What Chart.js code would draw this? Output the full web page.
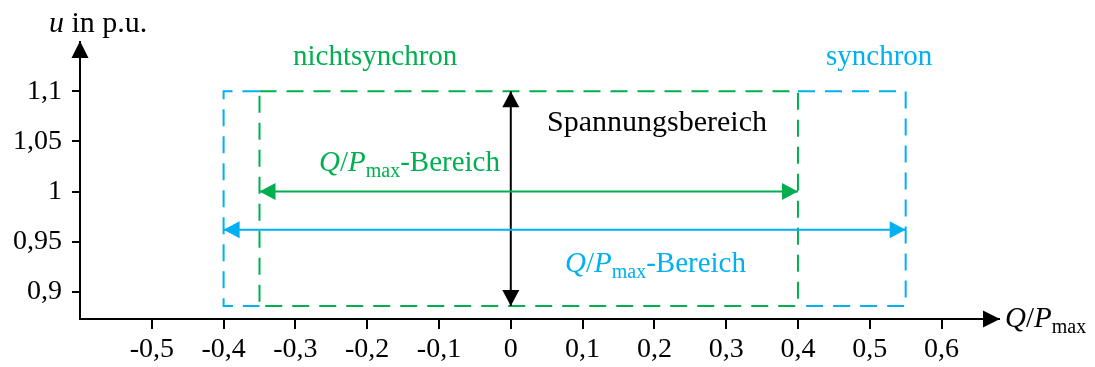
<!DOCTYPE html>
<html>
<head>
<meta charset="utf-8">
<script src="https://cdn.jsdelivr.net/npm/chart.js@4"></script>
<style>
  html, body { margin: 0; padding: 0; background: #fff; }
  #wrap { width: 1095px; height: 367px; }
</style>
</head>
<body>
<div id="wrap"><canvas id="qpChart" width="1095" height="367"></canvas></div>
<script>
// axis ticks
const xTicks = [-0.5, -0.4, -0.3, -0.2, -0.1, 0, 0.1, 0.2, 0.3, 0.4, 0.5, 0.6];
const yTicks = [0.9, 0.95, 1, 1.05, 1.1];
const xRange = [-0.6, 0.68];
const yRange = [0.873, 1.149];

// operating ranges
const syncQ = [-0.4, 0.55];      // synchron Q/Pmax range
const asyncQ = [-0.35, 0.4];     // nichtsynchron Q/Pmax range
const uBand = [0.886, 1.1];      // voltage band
const syncArrowU = 0.962;
const asyncArrowU = 1.0;

const GREEN = '#00B050';
const BLUE = '#00B0F0';
const FONT = "'Liberation Serif', 'Times New Roman', serif";

const fmt = v => {
    const r = Math.round(v * 100) / 100;
    return (r === 0 ? '0' : String(r)).replace('.', ',');
};

function pt(x, y) { return { x: x, y: y }; }

const dash = [17, 10];

const datasets = [
    {   // green box
        data: [pt(asyncQ[0], uBand[1]), pt(asyncQ[1], uBand[1]), pt(asyncQ[1], uBand[0]),
               pt(asyncQ[0], uBand[0]), pt(asyncQ[0], uBand[1])],
        borderColor: GREEN, borderDash: dash, order: 1
    },
    {   // blue box, left part
        data: [pt(asyncQ[0], uBand[1]), pt(syncQ[0], uBand[1]), pt(syncQ[0], uBand[0]), pt(asyncQ[0], uBand[0])],
        borderColor: BLUE, borderDash: dash, order: 2
    },
    {   // blue box, right part
        data: [pt(asyncQ[1], uBand[1]), pt(syncQ[1], uBand[1]), pt(syncQ[1], uBand[0]), pt(asyncQ[1], uBand[0])],
        borderColor: BLUE, borderDash: dash, order: 2
    },
    {
        data: [pt(asyncQ[0], asyncArrowU), pt(asyncQ[1], asyncArrowU)],
        borderColor: GREEN, arrow: true, order: 0
    },
    {
        data: [pt(syncQ[0], syncArrowU), pt(syncQ[1], syncArrowU)],
        borderColor: BLUE, arrow: true, order: 0
    },
    {
        data: [pt(0, uBand[0]), pt(0, uBand[1])],
        borderColor: '#000', arrow: true, order: 0
    }
];
datasets.forEach(d => {
    d.showLine = true;
    d.pointRadius = 0;
    d.borderWidth = 2;
    d.fill = false;
    d.tension = 0;
});

function arrowHead(ctx, tx, ty, fx, fy, color, len, half) {
    const a = Math.atan2(ty - fy, tx - fx);
    ctx.save();
    ctx.fillStyle = color;
    ctx.translate(tx, ty);
    ctx.rotate(a);
    ctx.beginPath();
    ctx.moveTo(0, 0);
    ctx.lineTo(-len, -half);
    ctx.lineTo(-len, half);
    ctx.closePath();
    ctx.fill();
    ctx.restore();
}

// text made of roman / italic / subscript pieces
function drawRuns(ctx, runs, x, y, color, size) {
    ctx.save();
    ctx.fillStyle = color;
    ctx.textBaseline = 'alphabetic';
    ctx.textAlign = 'left';
    let cx = x;
    runs.forEach(r => {
        const s = r.sub ? Math.round(size * 0.68) : size;
        ctx.font = (r.italic ? 'italic ' : '') + s + 'px ' + FONT;
        ctx.fillText(r.t, cx, y + (r.sub ? 6 : 0));
        cx += ctx.measureText(r.t).width;
    });
    ctx.restore();
}

const qp = [{ t: 'Q', italic: true }, { t: '/' }, { t: 'P', italic: true }, { t: 'max', sub: true }];

const decorations = {
    id: 'decorations',
    afterDatasetsDraw(chart) {
        const ctx = chart.ctx;
        chart.data.datasets.forEach((ds, i) => {
            if (!ds.arrow) return;
            const pts = chart.getDatasetMeta(i).data;
            const a = pts[0], b = pts[pts.length - 1];
            arrowHead(ctx, a.x, a.y, b.x, b.y, ds.borderColor, 16, 8.5);
            arrowHead(ctx, b.x, b.y, a.x, a.y, ds.borderColor, 16, 8.5);
        });
    },
    afterDraw(chart) {
        const ctx = chart.ctx;
        const area = chart.chartArea;
        // axis arrows
        arrowHead(ctx, area.left, area.top - 1, area.left, area.bottom, '#000', 17, 8.5);
        arrowHead(ctx, area.right + 1, area.bottom, area.left, area.bottom, '#000', 17, 8.5);

        drawRuns(ctx, [{ t: 'u', italic: true }, { t: ' in p.u.' }], 49, 32, '#000', 30);
        drawRuns(ctx, qp, 1005, 327, '#000', 29);
        drawRuns(ctx, [{ t: 'nichtsynchron' }], 293, 65, GREEN, 29);
        drawRuns(ctx, [{ t: 'synchron' }], 826, 65, BLUE, 29);
        drawRuns(ctx, [{ t: 'Spannungsbereich' }], 547, 131, '#000', 30);
        drawRuns(ctx, qp.concat([{ t: '-Bereich' }]), 319, 171, GREEN, 29);
        drawRuns(ctx, qp.concat([{ t: '-Bereich' }]), 565, 272, BLUE, 29);
    }
};

new Chart(document.getElementById('qpChart'), {
    type: 'scatter',
    data: { datasets: datasets },
    options: {
        responsive: false,
        animation: false,
        events: [],
        layout: { padding: { top: 42, right: 96, left: 0, bottom: 0 } },
        plugins: { legend: { display: false }, tooltip: { enabled: false } },
        scales: {
            x: {
                type: 'linear',
                min: xRange[0],
                max: xRange[1],
                afterBuildTicks: s => { s.ticks = xTicks.map(v => ({ value: v })); },
                afterFit: s => { s.height = 48; },
                border: { color: '#000', width: 2 },
                grid: { drawOnChartArea: false, color: '#000', lineWidth: 2, tickLength: 10 },
                ticks: {
                    callback: v => fmt(v),
                    color: '#000',
                    font: { family: FONT, size: 28 },
                    padding: 4,
                    maxRotation: 0,
                    autoSkip: false
                }
            },
            y: {
                type: 'linear',
                min: yRange[0],
                max: yRange[1],
                afterBuildTicks: s => { s.ticks = yTicks.map(v => ({ value: v })); },
                afterFit: s => { s.width = 80; },
                border: { color: '#000', width: 2 },
                grid: { drawOnChartArea: false, color: '#000', lineWidth: 2, tickLength: 8 },
                ticks: {
                    callback: v => fmt(v),
                    color: '#000',
                    font: { family: FONT, size: 28 },
                    padding: 10,
                    autoSkip: false
                }
            }
        }
    },
    plugins: [decorations]
});
</script>
</body>
</html>
